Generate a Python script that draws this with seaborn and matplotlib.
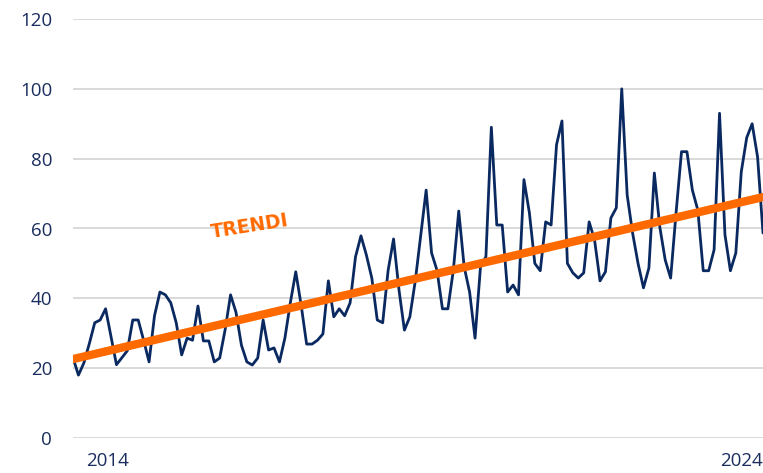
import numpy as np
import pandas as pd
import matplotlib
matplotlib.use("Agg")
import matplotlib.pyplot as plt
import seaborn as sns

# Monthly index values, starting January 2014
values = [
    23, 18, 21.5, 27, 33, 33.8, 37, 29, 21, 23, 25, 33.8, 33.8, 28, 21.8, 35,
    41.8, 41, 38.7, 33, 23.8, 28.6, 28, 37.8, 27.8, 27.8, 21.8, 22.9, 31, 41,
    36, 26.6, 21.8, 20.9, 22.9, 33.8, 25.2, 25.8, 21.8, 28.6, 38.7, 47.6, 38,
    26.9, 26.9, 28, 29.8, 45, 34.7, 37, 35, 38.7, 51.9, 57.9, 52.4, 45.8, 33.8,
    33, 48, 57, 42.4, 30.9, 34.7, 45, 58, 71, 53, 48, 37, 37, 48, 65, 49, 41.8,
    28.6, 49, 51.9, 89, 61, 61, 41.8, 43.8, 41, 74, 64.5, 50, 47.9, 61.9, 61,
    84, 90.8, 50, 47.3, 45.8, 47.3, 61.9, 56.7, 45, 47.6, 63, 65.9, 100, 69.6,
    58.7, 50, 43, 48.7, 75.9, 60.5, 51, 45.8, 64.5, 82, 82, 71, 65.3, 47.9,
    47.9, 53.9, 93, 58.2, 47.9, 53, 76.2, 86, 90, 80.5, 58.7,
]
# Linear trend: value at the first and at the last month
trend_values = [22.6, 69.0]
trend_label = "TRENDI"
year_labels = ["2014", "2024"]
y_ticks = [0, 20, 40, 60, 80, 100, 120]

NAVY = "#0a2960"
ORANGE = "#ff6a00"
GRID = "#d9d9d9"
LABEL = "#1a2d5e"

sns.set_theme(style="white")
plt.rcParams["font.family"] = ["Open Sans", "DejaVu Sans"]

n = len(values)
df = pd.DataFrame({"month": np.arange(n), "value": values})
trend = pd.DataFrame({"month": [0, n - 1], "value": trend_values})

fig = plt.figure(figsize=(7.63, 4.73), dpi=100)
ax = fig.add_axes([73 / 763, 35 / 473, 690 / 763, 419 / 473])

sns.lineplot(data=df, x="month", y="value", color=NAVY, linewidth=2.0,
             ax=ax, zorder=3)
sns.lineplot(data=trend, x="month", y="value", color=ORANGE, linewidth=6.0,
             ax=ax, zorder=4, solid_capstyle="round")

ax.set_xlim(0, n - 1)
ax.set_ylim(0, 120)
ax.set_yticks(y_ticks)
ax.yaxis.grid(True, color=GRID, linewidth=1.4)
ax.set_axisbelow(True)
for s in ax.spines.values():
    s.set_visible(False)

ax.set_xlabel("")
ax.set_ylabel("")
ax.tick_params(axis="y", length=0, pad=15, labelsize=13.5, labelcolor=LABEL)
ax.tick_params(axis="x", length=0, pad=10, labelsize=13.5, labelcolor=LABEL)

ax.set_xticks([6.4, n - 1])
ax.set_xticklabels(year_labels)
ax.get_xticklabels()[1].set_horizontalalignment("right")

ax.text(32.6, 60.5, trend_label, color=ORANGE, fontsize=13.5, fontweight="bold",
        family=["DejaVu Sans"], rotation=9, rotation_mode="anchor",
        ha="center", va="center", zorder=5)

fig.savefig("out.png", dpi=100)
